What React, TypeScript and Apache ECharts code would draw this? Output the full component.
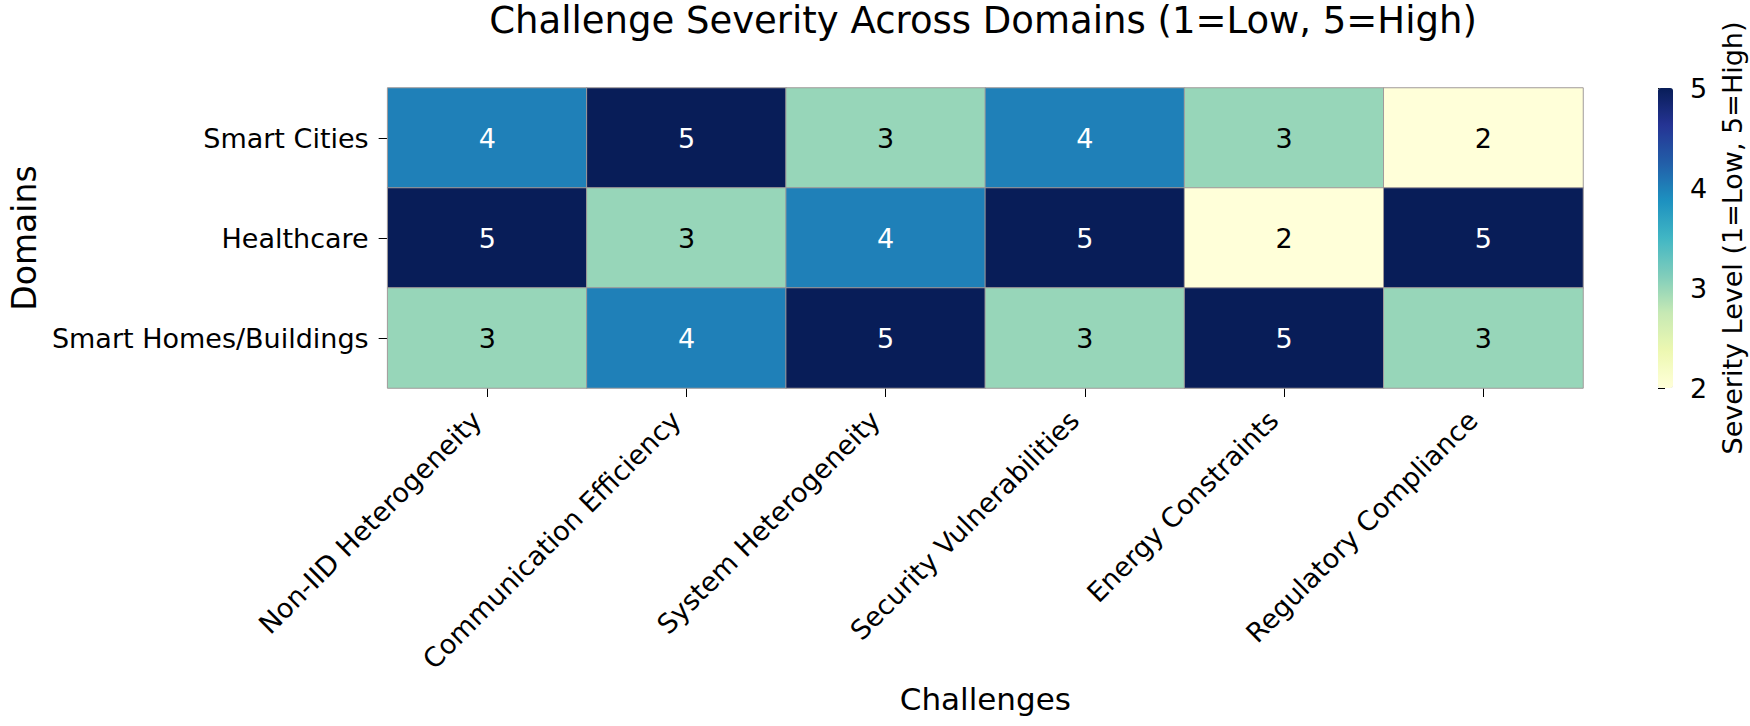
import React, { useEffect, useRef } from "react";
import * as echarts from "echarts";

const challenges = [
  "Non-IID Heterogeneity",
  "Communication Efficiency",
  "System Heterogeneity",
  "Security Vulnerabilities",
  "Energy Constraints",
  "Regulatory Compliance",
];
const domains = ["Smart Cities", "Healthcare", "Smart Homes/Buildings"];
const smartCities = [4, 5, 3, 4, 3, 2];
const healthcare = [5, 3, 4, 5, 2, 5];
const smartHomes = [3, 4, 5, 3, 5, 3];
const severityTicks = [2, 3, 4, 5];

const ylgnbu = [
  "#ffffd9",
  "#edf8b1",
  "#c7e9b4",
  "#7fcdbb",
  "#41b6c4",
  "#1d91c0",
  "#225ea8",
  "#253494",
  "#081d58",
];

const FONT = "DejaVu Sans";

export default function App() {
  const ref = useRef<HTMLDivElement>(null);
  useEffect(() => {
    if (!ref.current) return;
    const chart = echarts.init(ref.current, null, { renderer: "svg" });
    const rows = [smartCities, healthcare, smartHomes];
    const data: any[] = [];
    rows.forEach((row, yi) => {
      row.forEach((v, xi) => {
        data.push({
          value: [xi, yi, v],
          label: { color: v >= 4 ? "#ffffff" : "#000000" },
        });
      });
    });
    const vmin = Math.min(...severityTicks);
    const vmax = Math.max(...severityTicks);
    chart.setOption({
      animation: false,
      backgroundColor: "#ffffff",
      textStyle: { fontFamily: FONT },
      title: {
        text: "Challenge Severity Across Domains (1=Low, 5=High)",
        left: 983,
        top: 2,
        padding: 0,
        textAlign: "center",
        textStyle: { fontFamily: FONT, fontSize: 37, fontWeight: "normal", color: "#000" },
      },
      grid: [
        { left: 383, top: 88, width: 1200, height: 300 },
        { left: 1658, top: 88, width: 15, height: 300 },
      ],
      xAxis: [
        {
          type: "category",
          gridIndex: 0,
          data: challenges,
          name: "Challenges",
          nameLocation: "middle",
          nameGap: 295,
          nameTextStyle: { fontFamily: FONT, fontSize: 31, color: "#000" },
          axisLine: { show: false },
          axisTick: { show: true, alignWithLabel: true, length: 9, lineStyle: { color: "#000", width: 1 } },
          axisLabel: {
            rotate: 45,
            interval: 0,
            margin: 17,
            padding: [0, 15, 0, 0],
            fontFamily: FONT,
            fontSize: 27,
            color: "#000",
          },
          splitLine: { show: false },
        },
        { type: "value", gridIndex: 1, show: false, min: 0, max: 1 },
      ],
      yAxis: [
        {
          type: "category",
          gridIndex: 0,
          data: domains,
          inverse: true,
          name: "Domains",
          nameLocation: "middle",
          nameRotate: 90,
          nameGap: 345,
          nameTextStyle: { fontFamily: FONT, fontSize: 33, color: "#000" },
          axisLine: { show: false },
          axisTick: { show: true, alignWithLabel: true, length: 9, lineStyle: { color: "#000", width: 1 } },
          axisLabel: { margin: 19, fontFamily: FONT, fontSize: 27, color: "#000" },
          splitLine: { show: false },
        },
        {
          type: "value",
          gridIndex: 1,
          position: "right",
          min: vmin,
          max: vmax,
          interval: 1,
          name: "Severity Level (1=Low, 5=High)",
          nameLocation: "middle",
          nameRotate: 90,
          nameGap: 46,
          nameTextStyle: { fontFamily: FONT, fontSize: 27, color: "#000" },
          axisLine: { show: false },
          axisTick: { show: true, length: 7, lineStyle: { color: "#000", width: 1 } },
          axisLabel: { margin: 17, fontFamily: FONT, fontSize: 27, color: "#000" },
          splitLine: { show: false },
        },
      ],
      visualMap: {
        type: "continuous",
        min: vmin,
        max: vmax,
        calculable: false,
        show: true,
        left: 1658,
        top: 88,
        itemWidth: 15,
        itemHeight: 300,
        padding: 0,
        showLabel: false,
        inRange: { color: ylgnbu },
        seriesIndex: 0,
        hoverLink: false,
      },
      series: [
        {
          type: "heatmap",
          xAxisIndex: 0,
          yAxisIndex: 0,
          data,
          label: {
            show: true,
            formatter: (p: any) => String(p.value[2]),
            fontFamily: FONT,
            fontSize: 27,
          },
          itemStyle: { borderColor: "#a09a9a", borderWidth: 1 },
          emphasis: { disabled: true },
        },
      ],
    });
    return () => chart.dispose();
  }, []);
  return (
    <div
      ref={ref}
      style={{ position: "fixed", left: 0, top: 0, width: 1750, height: 726 }}
    />
  );
}
